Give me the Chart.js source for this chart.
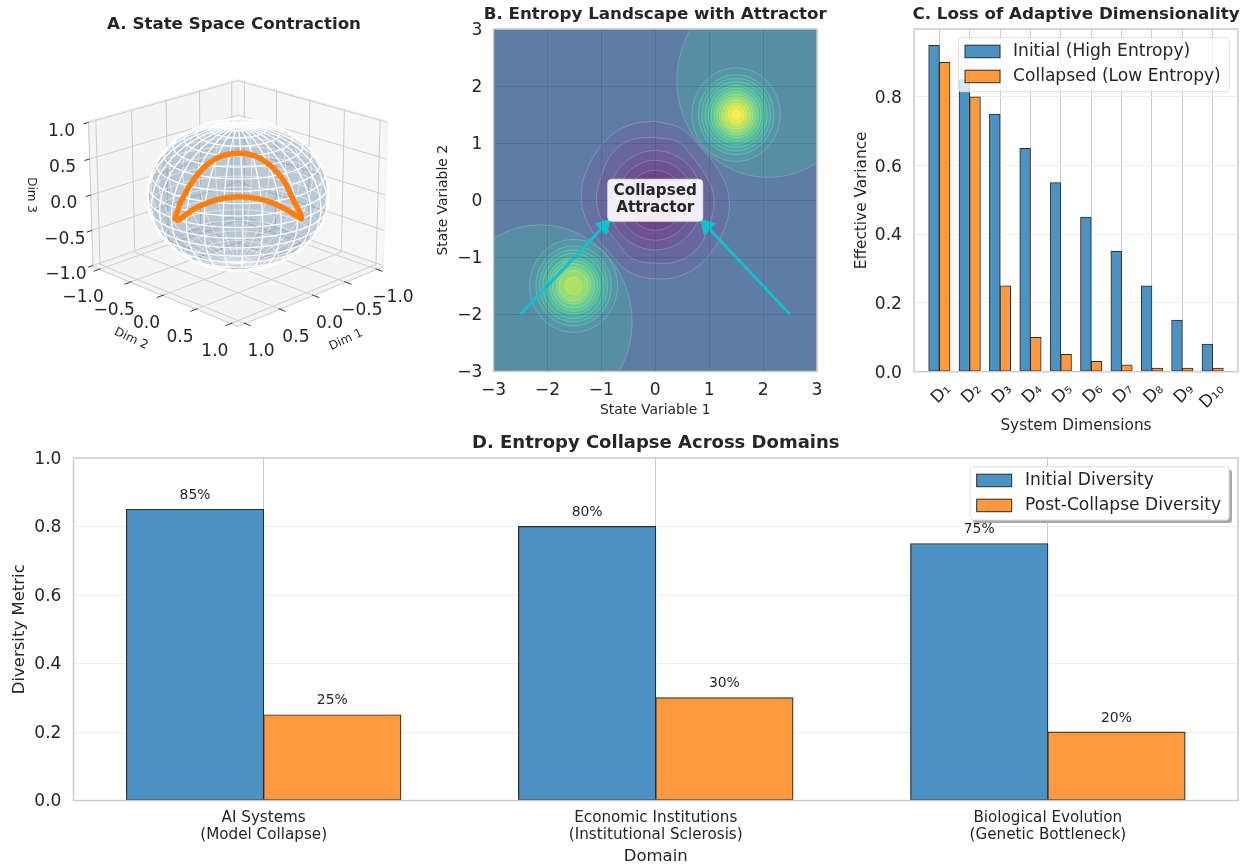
<!DOCTYPE html>
<html>
<head>
<meta charset="utf-8">
<title>Entropy Collapse</title>
<script src="https://cdn.jsdelivr.net/npm/chart.js@4"></script>
<style>
body { margin: 0; background: #fff; overflow: hidden; }
canvas { position: absolute; }
</style>
</head>
<body>
<canvas id="chartA" width="468" height="380" style="left:0;top:0"></canvas>
<canvas id="chartB" width="403" height="420" style="left:430px;top:0"></canvas>
<canvas id="chartC" width="411" height="440" style="left:840px;top:0"></canvas>
<canvas id="chartD" width="1251" height="437" style="left:0;top:430px"></canvas>
<script>
// === Data ===
const axisTicks3d = [-1, -0.5, 0, 0.5, 1];
// orange curve in view-plane units
const curveU = [-0.36, -0.322, -0.255, -0.179, -0.093, 0.004, 0.097, 0.183, 0.259, 0.316, 0.364, 0.297, 0.203, 0.107, 0.011, -0.084, -0.171, -0.255, -0.343, -0.36];
const curveV = [-0.134, -0.029, 0.086, 0.172, 0.224, 0.24, 0.224, 0.172, 0.086, -0.029, -0.134, -0.096, -0.048, -0.019, -0.01, -0.019, -0.044, -0.082, -0.144, -0.134];

// contour radii in state units, outer to inner
const viridis = ["#440154", "#481467", "#482576", "#453781", "#404688", "#365c8d", "#33638d", "#2d718e", "#287d8e", "#238a8d", "#1f968b", "#20a386", "#29af7f", "#3dbc74", "#56c667", "#75d054", "#95d840", "#bade28", "#dde318", "#fde725"];
const upperPeak = [1.5, 1.5];
const upperRegion = [2.1, 2.1, 1.7];
const upperRadii = [0.82, 0.7, 0.635, 0.575, 0.515, 0.465, 0.41, 0.36, 0.31, 0.26, 0.2, 0.15, 0.08];
const lowerPeak = [-1.515, -1.5];
const lowerRegion = [-2.13, -2.13, 1.7];
const lowerRadii = [0.815, 0.7, 0.63, 0.57, 0.495, 0.445, 0.39, 0.32, 0.27, 0.155];
const wellRadii = [0.87, 0.7, 0.525];
const wellOuterX = [0, 0.47, 0.84, 1.21, 1.37, 1.27, 0.9, 0.47, 0, -0.47, -0.84, -1.21, -1.37, -1.27, -0.9, -0.47, 0];
const wellOuterY = [1.385, 1.26, 0.93, 0.47, 0, -0.53, -1.06, -1.32, -1.374, -1.26, -0.93, -0.47, 0, 0.53, 1.06, 1.32, 1.385];
const wellInnerX = [0, 0.43, 0.7, 0.97, 1.09, 1.0, 0.8, 0.44, 0, -0.43, -0.7, -0.97, -1.09, -1.0, -0.8, -0.44, 0];
const wellInnerY = [1.1, 1.02, 0.74, 0.38, 0, -0.42, -0.82, -1.06, -1.1, -1.02, -0.74, -0.38, 0, 0.42, 0.82, 1.06, 1.1];
const arrowLeftX = [-2.5, -0.95];
const arrowLeftY = [-2, -0.45];
const arrowRightX = [2.5, 0.955];
const arrowRightY = [-2, -0.45];

const dimLabels = ["D₁", "D₂", "D₃", "D₄", "D₅", "D₆", "D₇", "D₈", "D₉", "D₁₀"];
const dimInitial = [0.95, 0.85, 0.75, 0.65, 0.55, 0.45, 0.35, 0.25, 0.15, 0.08];
const dimCollapsed = [0.9, 0.8, 0.25, 0.1, 0.05, 0.03, 0.02, 0.01, 0.01, 0.01];

const domains = [["AI Systems", "(Model Collapse)"], ["Economic Institutions", "(Institutional Sclerosis)"], ["Biological Evolution", "(Genetic Bottleneck)"]];
const domainInitial = [0.85, 0.8, 0.75];
const domainCollapsed = [0.25, 0.3, 0.2];

// === Common style ===
const FONT = "'DejaVu Sans'";
const TEXT = "#262626";
const SPINE = "#cccccc";
const BLUE = "#4c92c3";
const ORANGE = "#ff993e";
const EDGE = "#2b2b2b";
const TICK_SIZE = 17.1;
Chart.defaults.font.family = FONT;
Chart.defaults.color = TEXT;
Chart.defaults.animation = false;

const minus = (s) => String(s).replace("-", "−");

function levelColor(level) {
    // contourf alpha 0.8 on white, kept opaque because the bands are nested here
    const lo = Math.floor(level);
    const hi = Math.min(lo + 1, viridis.length - 1);
    const rgb = (hex) => { const n = parseInt(hex.slice(1), 16); return [n >> 16, (n >> 8) & 255, n & 255]; };
    const a = rgb(viridis[lo]), b = rgb(viridis[hi]), f = level - lo;
    const c = a.map((v, i) => Math.round((v + (b[i] - v) * f) * 0.8 + 51));
    return `rgb(${c[0]},${c[1]},${c[2]})`;
}

// === Shared plugins ===
const panelPlugin = {
    id: "panel",
    afterDraw(chart, args, opts) {
        const { ctx, chartArea: a } = chart;
        ctx.save();
        if (opts.frame) {
            ctx.strokeStyle = SPINE;
            ctx.lineWidth = 1.5;
            ctx.strokeRect(a.left, a.top, a.right - a.left, a.bottom - a.top);
        }
        if (opts.legend) drawLegend(chart, opts.legend);
        ctx.fillStyle = TEXT;
        ctx.textAlign = "center";
        ctx.textBaseline = "middle";
        ctx.font = `bold ${opts.titleSize || 16.7}px ${FONT}`;
        ctx.fillText(opts.title, (a.left + a.right) / 2, opts.titleY);
        ctx.restore();
    }
};

function drawLegend(chart, lg) {
    const ctx = chart.ctx;
    ctx.save();
    if (lg.shadow) {
        ctx.fillStyle = "#a8a8a8";
        ctx.beginPath();
        ctx.roundRect(lg.x + 3, lg.y + 3, lg.w, lg.h, 3);
        ctx.fill();
    }
    ctx.fillStyle = lg.shadow ? "#ffffff" : "rgba(255,255,255,0.8)";
    ctx.strokeStyle = "#dddddd";
    ctx.lineWidth = 1;
    ctx.beginPath();
    ctx.roundRect(lg.x, lg.y, lg.w, lg.h, 3);
    ctx.fill();
    ctx.stroke();
    chart.data.datasets.forEach((ds, i) => {
        const y = lg.y + lg.firstRow + i * lg.rowGap;
        ctx.fillStyle = ds.backgroundColor;
        ctx.strokeStyle = EDGE;
        ctx.fillRect(lg.x + lg.swatchX, y - 6, 35, 12.5);
        ctx.strokeRect(lg.x + lg.swatchX, y - 6, 35, 12.5);
        ctx.fillStyle = TEXT;
        ctx.font = `${TICK_SIZE}px ${FONT}`;
        ctx.textAlign = "left";
        ctx.textBaseline = "middle";
        ctx.fillText(ds.label, lg.x + lg.textX, y + 0.5);
    });
    ctx.restore();
}

const valueLabels = {
    id: "valueLabels",
    afterDatasetsDraw(chart) {
        const ctx = chart.ctx;
        ctx.save();
        ctx.fillStyle = TEXT;
        ctx.font = `13.9px ${FONT}`;
        ctx.textAlign = "center";
        ctx.textBaseline = "middle";
        chart.data.datasets.forEach((ds, i) => {
            chart.getDatasetMeta(i).data.forEach((bar, j) => {
                ctx.fillText(Math.round(ds.data[j].y * 100) + "%", bar.x, bar.y - 14);
            });
        });
        ctx.restore();
    }
};

const attractorLabel = {
    id: "attractorLabel",
    afterDraw(chart) {
        const { ctx, scales } = chart;
        const cx = scales.x.getPixelForValue(0);
        const cy = scales.y.getPixelForValue(0);
        ctx.save();
        ctx.fillStyle = "rgba(255,255,255,0.9)";
        ctx.strokeStyle = "rgba(225,225,235,0.9)";
        ctx.beginPath();
        ctx.roundRect(cx - 47.5, cy - 21, 95, 42, 4);
        ctx.fill();
        ctx.stroke();
        ctx.fillStyle = TEXT;
        ctx.font = `bold 15.2px ${FONT}`;
        ctx.textAlign = "center";
        ctx.textBaseline = "middle";
        ctx.fillText("Collapsed", cx, cy - 9.5);
        ctx.fillText("Attractor", cx, cy + 8);
        ctx.restore();
    }
};

// === Panel A: 3D state space, projected the way a perspective view does ===
const ELEV = 20 * Math.PI / 180;
const AZIM = 45 * Math.PI / 180;
const DIST = 10;
const BOX = [0.595, 0.595, 0.446];
const XY_LIM = 1.1;
const Z_LIM = 1.02;
const SPHERE_R = 0.96;
const viewW = [Math.cos(ELEV) * Math.cos(AZIM), Math.cos(ELEV) * Math.sin(AZIM), Math.sin(ELEV)];
const viewU = [-Math.SQRT1_2, Math.SQRT1_2, 0];
const viewV = [-viewW[2] * Math.SQRT1_2, -viewW[2] * Math.SQRT1_2, 2 * viewW[0] * Math.SQRT1_2];
const dot = (a, b) => a[0] * b[0] + a[1] * b[1] + a[2] * b[2];

function project(x, y, z) {
    const p = [x / XY_LIM * BOX[0], y / XY_LIM * BOX[1], z / Z_LIM * BOX[2]];
    const k = DIST / (DIST - dot(p, viewW));
    return { x: dot(p, viewU) * k, y: dot(p, viewV) * k };
}
const GAP = { x: NaN, y: NaN };
const SMOOTH = 0.001; // keeps Chart.js off its column-averaging line path

function panelAData() {
    const L = XY_LIM, Z = Z_LIM;
    const sets = [];
    const pane = (pts, color) => sets.push({
        data: pts.map((q) => project(...q)), showLine: true, fill: "shape",
        backgroundColor: color, borderColor: "#eeeeee", borderWidth: 1, pointRadius: 0, tension: SMOOTH
    });
    pane([[L, -L, -Z], [-L, -L, -Z], [-L, L, -Z], [L, L, -Z], [L, -L, -Z]], "#f4f4f4");
    pane([[L, -L, -Z], [-L, -L, -Z], [-L, -L, Z], [L, -L, Z], [L, -L, -Z]], "#f4f4f4");
    pane([[-L, L, -Z], [-L, -L, -Z], [-L, -L, Z], [-L, L, Z], [-L, L, -Z]], "#f7f7f7");

    const grid = [];
    const seg = (a, b) => grid.push(project(...a), project(...b), GAP);
    axisTicks3d.forEach((t) => {
        seg([t, -L, -Z], [t, L, -Z]);
        seg([-L, t, -Z], [L, t, -Z]);
        seg([-L, -L, t], [L, -L, t]);
        seg([t, -L, -Z], [t, -L, Z]);
        seg([-L, -L, t], [-L, L, t]);
        seg([-L, t, -Z], [-L, t, Z]);
    });
    seg([L, -L, -Z], [L, L, -Z]);
    seg([L, L, -Z], [-L, L, -Z]);
    seg([L, -L, -Z], [L, -L, Z]);
    sets.push({ data: grid, showLine: true, borderColor: SPINE, borderWidth: 1, pointRadius: 0, tension: SMOOTH });

    // sphere wireframe, split into far and near halves
    const far = [], near = [];
    const a2 = (BOX[0] / L) ** 2, c2 = (BOX[2] / Z) ** 2;
    const surf = (th, ph) => [SPHERE_R * Math.sin(ph) * Math.cos(th), SPHERE_R * Math.sin(ph) * Math.sin(th), SPHERE_R * Math.cos(ph)];
    const wire = (a, b) => {
        const m = [(a[0] + b[0]) / 2, (a[1] + b[1]) / 2, (a[2] + b[2]) / 2];
        const n = [m[0] * a2, m[1] * a2, m[2] * c2];
        (dot(n, viewW) > 0 ? near : far).push(project(...a), project(...b), GAP);
    };
    const NU = 30, NV = 20, STEP = 3;
    for (let i = 0; i < NU; i++) {
        const th = i * 2 * Math.PI / NU;
        for (let j = 0; j < NV * STEP; j++) {
            wire(surf(th, j * Math.PI / (NV * STEP)), surf(th, (j + 1) * Math.PI / (NV * STEP)));
        }
    }
    for (let j = 1; j < NV; j++) {
        const ph = j * Math.PI / NV;
        for (let i = 0; i < NU * STEP; i++) {
            wire(surf(i * 2 * Math.PI / (NU * STEP), ph), surf((i + 1) * 2 * Math.PI / (NU * STEP), ph));
        }
    }
    const rimA = 0.516, rimB = 0.437, rim = [];
    for (let i = 0; i <= 72; i++) {
        rim.push({ x: rimA * Math.cos(i * Math.PI / 36), y: rimB * Math.sin(i * Math.PI / 36) });
    }
    sets.push({ data: rim, showLine: true, fill: "shape", backgroundColor: "rgba(75,115,150,0.35)", borderColor: "rgba(0,0,0,0)", borderWidth: 0, pointRadius: 0, tension: SMOOTH });
    sets.push({ data: far, showLine: true, borderColor: "rgba(255,255,255,0.55)", borderWidth: 1, pointRadius: 0, tension: SMOOTH });
    sets.push({ data: near, showLine: true, borderColor: "rgba(255,255,255,0.95)", borderWidth: 1.3, pointRadius: 0, tension: SMOOTH });
    sets.push({ data: rim, showLine: true, borderColor: "#ffffff", borderWidth: 2, pointRadius: 0, tension: SMOOTH });

    sets.push({
        data: curveU.map((u, i) => ({ x: u, y: curveV[i] })), showLine: true, borderColor: "#ff7f0e",
        borderWidth: 5.5, tension: 0.35, pointRadius: 0, borderJoinStyle: "round", borderCapStyle: "round"
    });

    const ticks = [];
    const tick = (a, b) => ticks.push(project(...a), project(...b), GAP);
    axisTicks3d.forEach((t) => {
        tick([t, L - 0.02, -Z], [t, L + 0.08, -Z]);
        tick([L - 0.02, t, -Z], [L + 0.08, t, -Z]);
        tick([L, -L, t], [L + 0.07, -L, t]);
    });
    sets.push({ data: ticks, showLine: true, borderColor: TEXT, borderWidth: 1, pointRadius: 0, tension: SMOOTH });
    sets.forEach((s, i) => { s.order = sets.length - i; });
    return sets;
}

const axes3dText = {
    id: "axes3dText",
    afterDraw(chart) {
        const { ctx, scales } = chart;
        const L = XY_LIM, Z = Z_LIM;
        const put = (q, dx, dy, txt, rot, size) => {
            const p = project(...q);
            ctx.save();
            ctx.translate(scales.x.getPixelForValue(p.x) + dx, scales.y.getPixelForValue(p.y) + dy);
            ctx.rotate(rot * Math.PI / 180);
            ctx.font = `${size}px ${FONT}`;
            ctx.fillStyle = TEXT;
            ctx.textAlign = "center";
            ctx.textBaseline = "middle";
            ctx.fillText(txt, 0, 0);
            ctx.restore();
        };
        axisTicks3d.forEach((t) => {
            const s = minus(t.toFixed(1));
            put([t, L, -Z], 16, 28, s, 0, TICK_SIZE);
            put([L, t, -Z], -16, 28, s, 0, TICK_SIZE);
            put([L, -L, t], -27, 9, s, 0, TICK_SIZE);
        });
        put([0, L, -Z], 32.5, 44.5, "Dim 1", -25, 12);
        put([L, 0, -Z], -31.5, 43.5, "Dim 2", 25, 12);
        put([L, -L, 0], -60, 0, "Dim 3", 90, 12);
    }
};

new Chart(document.getElementById("chartA"), {
    type: "scatter",
    data: { datasets: panelAData() },
    options: {
        responsive: false,
        layout: { padding: 0, autoPadding: false },
        scales: {
            x: { type: "linear", display: false, min: -1.36, max: 1.314 },
            y: { type: "linear", display: false, min: -1.063, max: 1.1207 }
        },
        plugins: {
            legend: { display: false }, tooltip: { enabled: false },
            panel: { title: "A. State Space Contraction", titleY: 25 }
        }
    },
    plugins: [panelPlugin, axes3dText]
});

// === Panel B: contour bands as nested closed lines ===
function ringPoints(cx, cy, r) {
    const pts = [];
    for (let i = 0; i <= 60; i++) {
        pts.push({ x: cx + r * Math.cos(i * Math.PI / 30), y: cy + r * Math.sin(i * Math.PI / 30) });
    }
    return pts;
}
const zip = (xs, ys) => xs.map((x, i) => ({ x, y: ys[i] }));

function panelBData() {
    const sets = [];
    const band = (data, level, extra) => sets.push(Object.assign({
        data, showLine: true, fill: "shape", backgroundColor: levelColor(level),
        borderColor: "rgba(255,255,255,0.3)", borderWidth: 0.7, pointRadius: 0, tension: SMOOTH
    }, extra));
    band(zip([-3, 3, 3, -3, -3], [-3, -3, 3, 3, -3]), 5, { borderWidth: 0 });
    band(zip(wellOuterX, wellOuterY), 4.4, { tension: 0.4 });
    band(zip(wellInnerX, wellInnerY), 3.6, { tension: 0.4 });
    wellRadii.forEach((r, i) => band(ringPoints(0, 0, r), 2.8 - i * 0.8));
    band(ringPoints(...upperRegion), 7);
    upperRadii.forEach((r, i) => band(ringPoints(upperPeak[0], upperPeak[1], r), 7 + (i + 1) * 0.92));
    band(ringPoints(...lowerRegion), 7);
    lowerRadii.forEach((r, i) => band(ringPoints(lowerPeak[0], lowerPeak[1], r), 7 + (i + 1) * 0.92));
    const arrow = (xs, ys, rot) => sets.push({
        data: zip(xs, ys), showLine: true, borderColor: "#17becf", borderWidth: 3,
        pointRadius: [0, 10], pointStyle: "triangle", pointRotation: [0, rot],
        pointBackgroundColor: "#17becf", pointBorderWidth: 0
    });
    arrow(arrowLeftX, arrowLeftY, 45);
    arrow(arrowRightX, arrowRightY, -45);
    sets.forEach((s, i) => { s.order = sets.length - i; });
    return sets;
}

const unitTicks = { stepSize: 1, font: { size: TICK_SIZE }, callback: (v) => minus(v) };

new Chart(document.getElementById("chartB"), {
    type: "scatter",
    data: { datasets: panelBData() },
    options: {
        responsive: false,
        // right padding has to clear half the last tick label plus the tick padding
        layout: { padding: { top: 29, right: 16 }, autoPadding: false },
        scales: {
            x: {
                type: "linear", min: -3, max: 3,
                afterFit(s) { s.height = 48.5; },
                grid: { z: 1, color: "rgba(30,60,100,0.2)", drawTicks: false },
                border: { display: false },
                ticks: Object.assign({ padding: 9, maxRotation: 0 }, unitTicks),
                title: { display: true, text: "State Variable 1", font: { size: 13.9 }, padding: { top: 0, bottom: 1 } }
            },
            y: {
                type: "linear", min: -3, max: 3,
                afterFit(s) { s.width = 63.5; },
                grid: { z: 1, color: "rgba(30,60,100,0.2)", drawTicks: false },
                border: { display: false },
                ticks: Object.assign({ padding: 11, labelOffset: 1.5 }, unitTicks),
                title: { display: true, text: "State Variable 2", font: { size: 13.9 }, padding: { top: 4.7, bottom: 0 } }
            }
        },
        plugins: {
            legend: { display: false }, tooltip: { enabled: false },
            panel: { title: "B. Entropy Landscape with Attractor", titleY: 15, frame: true }
        }
    },
    plugins: [panelPlugin, attractorLabel]
});

// === Panels C and D: grouped bars on a linear index axis ===
function barSet(label, values, color, edgeWidth, inflate) {
    return {
        label, data: values.map((y, x) => ({ x, y })), backgroundColor: color,
        borderColor: EDGE, borderWidth: edgeWidth, borderSkipped: false, inflateAmount: inflate,
        categoryPercentage: 0.7, barPercentage: 1
    };
}

new Chart(document.getElementById("chartC"), {
    type: "bar",
    data: { datasets: [barSet("Initial (High Entropy)", dimInitial, BLUE, 1, 0.4), barSet("Collapsed (Low Entropy)", dimCollapsed, ORANGE, 1, 0.4)] },
    options: {
        responsive: false,
        layout: { padding: { top: 29, right: 13 }, autoPadding: false },
        scales: {
            x: {
                type: "linear", min: -0.835, max: 9.835, offset: false,
                afterFit(s) { s.height = 68.3; },
                grid: { color: SPINE, offset: false, drawTicks: false },
                border: { display: false },
                ticks: {
                    stepSize: 1, autoSkip: false, minRotation: 45, maxRotation: 45, padding: 8, labelOffset: 9,
                    includeBounds: false, font: { size: 17 }, callback: (v) => dimLabels[v]
                },
                title: { display: true, text: "System Dimensions", font: { size: 15.3 }, padding: { top: 0, bottom: 4.8 } }
            },
            y: {
                min: 0, max: 0.9975,
                afterFit(s) { s.width = 74; },
                grid: { color: "#eeeeee", drawTicks: false },
                border: { display: false },
                ticks: { stepSize: 0.2, includeBounds: false, padding: 12, labelOffset: 1.5, font: { size: TICK_SIZE }, callback: (v) => v.toFixed(1) },
                title: { display: true, text: "Effective Variance", font: { size: 15.3 }, padding: { top: 12.5, bottom: 0 } }
            }
        },
        plugins: {
            legend: { display: false }, tooltip: { enabled: false },
            panel: {
                title: "C. Loss of Adaptive Dimensionality", titleY: 15, frame: true,
                legend: { x: 118.3, y: 37.7, w: 271, h: 54, swatchX: 6.7, textX: 54.7, firstRow: 13.5, rowGap: 25 }
            }
        }
    },
    plugins: [panelPlugin]
});

new Chart(document.getElementById("chartD"), {
    type: "bar",
    data: { datasets: [barSet("Initial Diversity", domainInitial, BLUE, 1.2, 0.5), barSet("Post-Collapse Diversity", domainCollapsed, ORANGE, 1.2, 0.5)] },
    options: {
        responsive: false,
        layout: { padding: { top: 28, right: 13 }, autoPadding: false },
        scales: {
            x: {
                type: "linear", min: -0.485, max: 2.485, offset: false,
                afterFit(s) { s.height = 66.5; },
                grid: { color: SPINE, offset: false, drawTicks: false },
                border: { display: false },
                ticks: {
                    stepSize: 1, autoSkip: false, maxRotation: 0, padding: 9, includeBounds: false,
                    font: { size: 15.2, lineHeight: 1.12 }, callback: (v) => domains[v]
                },
                title: { display: true, text: "Domain", font: { size: 16.5 }, padding: { top: 0, bottom: 0.1 } }
            },
            y: {
                min: 0, max: 1,
                afterFit(s) { s.width = 73.5; },
                grid: { color: "#eeeeee", drawTicks: false },
                border: { display: false },
                ticks: { stepSize: 0.2, padding: 12, labelOffset: 1.5, font: { size: TICK_SIZE }, callback: (v) => v.toFixed(1) },
                title: { display: true, text: "Diversity Metric", font: { size: 16.5 }, padding: { top: 9.6, bottom: 0 } }
            }
        },
        plugins: {
            legend: { display: false }, tooltip: { enabled: false },
            panel: {
                title: "D. Entropy Collapse Across Domains", titleY: 13, titleSize: 18, frame: true,
                legend: { x: 970, y: 36.7, w: 259, h: 53.3, shadow: true, swatchX: 6.7, textX: 55, firstRow: 13.5, rowGap: 25 }
            }
        }
    },
    plugins: [panelPlugin, valueLabels]
});
</script>
</body>
</html>
